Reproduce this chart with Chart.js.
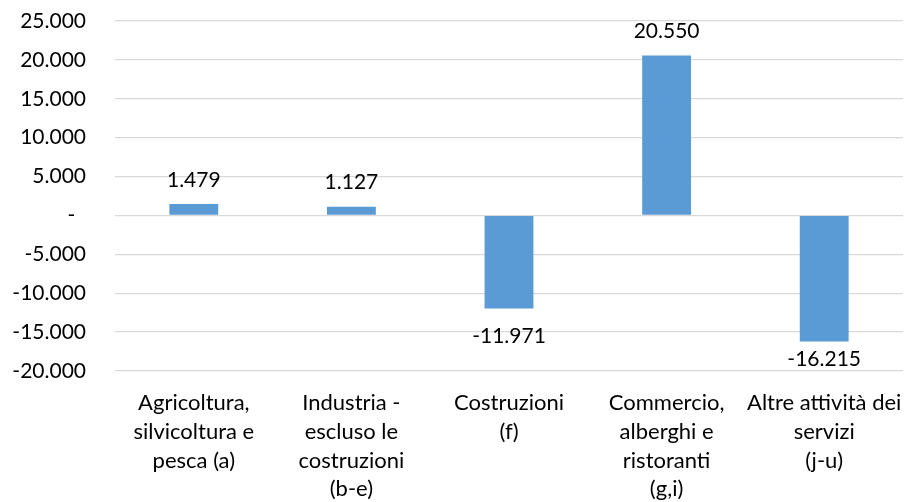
<!DOCTYPE html>
<html>
<head>
<meta charset="utf-8">
<script src="https://cdn.jsdelivr.net/npm/chart.js@4"></script>
<style>
  body { margin: 0; background: #fff; }
  #wrap { width: 905px; height: 502px; position: relative; }
</style>
</head>
<body>
<div id="wrap"><canvas id="BarChart"></canvas></div>
<script>
// categorie (righe delle etichette) e valori
const Categories = [
  ["Agricoltura,", "silvicoltura e", "pesca (a)"],
  ["Industria -", "escluso le", "costruzioni", "(b-e)"],
  ["Costruzioni", "(f)"],
  ["Commercio,", "alberghi e", "ristoranti", "(g,i)"],
  ["Altre attività dei", "servizi", "(j-u)"]
];
const Values = [1479, 1127, -11971, 20550, -16215];
const YMin = -20000;
const YMax = 25000;
const YStep = 5000;

const FONT = { family: 'Lato', size: 21 };

// formato italiano: 25.000, lo zero come "-"
function formatIt(v) {
  const s = Math.abs(v).toString().replace(/\B(?=(\d{3})+(?!\d))/g, '.');
  return (v < 0 ? '-' : '') + s;
}

const valueLabels = {
  id: 'valueLabels',
  afterDatasetsDraw(chart) {
    const ctx = chart.ctx;
    const area = chart.chartArea;
    const meta = chart.getDatasetMeta(0);
    ctx.save();
    ctx.font = FONT.size + 'px ' + FONT.family;
    ctx.fillStyle = '#000';
    ctx.textAlign = 'center';
    ctx.textBaseline = 'middle';
    meta.data.forEach(function (bar, i) {
      const v = Values[i];
      let y;
      if (v >= 0) {
        y = bar.y - 24;
      } else {
        y = Math.min(bar.y + 28, area.bottom - 12);
      }
      ctx.fillText(formatIt(v), bar.x, y);
    });
    ctx.restore();
  }
};

new Chart(document.getElementById("BarChart"), {
  type: 'bar',
  data: {
    labels: Categories,
    datasets: [{
      data: Values,
      backgroundColor: '#5B9BD5',
      borderWidth: 0,
      categoryPercentage: 1,
      barPercentage: 0.31
    }]
  },
  options: {
    responsive: true,
    maintainAspectRatio: false,
    animation: false,
    layout: { padding: { left: 0, right: 2, top: 21, bottom: 0 } },
    plugins: {
      legend: { display: false },
      tooltip: { enabled: false }
    },
    scales: {
      x: {
        grid: { display: false, drawTicks: false },
        border: { display: false },
        ticks: {
          color: '#000',
          font: { family: FONT.family, size: 22, lineHeight: 1.3 },
          padding: 18,
          autoSkip: false,
          maxRotation: 0,
          minRotation: 0
        },
        afterFit(scale) {
          scale.height = 131;
          scale.paddingLeft = 0;
          scale.paddingRight = 0;
        }
      },
      y: {
        min: YMin,
        max: YMax,
        grid: { color: '#D9D9D9', lineWidth: 1.3, drawTicks: false },
        border: { display: false },
        ticks: {
          stepSize: YStep,
          color: '#000',
          font: FONT,
          padding: 29,
          callback: function (v) { return v === 0 ? '-  ' : formatIt(v); }
        },
        afterFit(scale) {
          scale.width = 115;
          scale.paddingTop = 0;
          scale.paddingBottom = 0;
        }
      }
    }
  },
  plugins: [valueLabels]
});
</script>
</body>
</html>
